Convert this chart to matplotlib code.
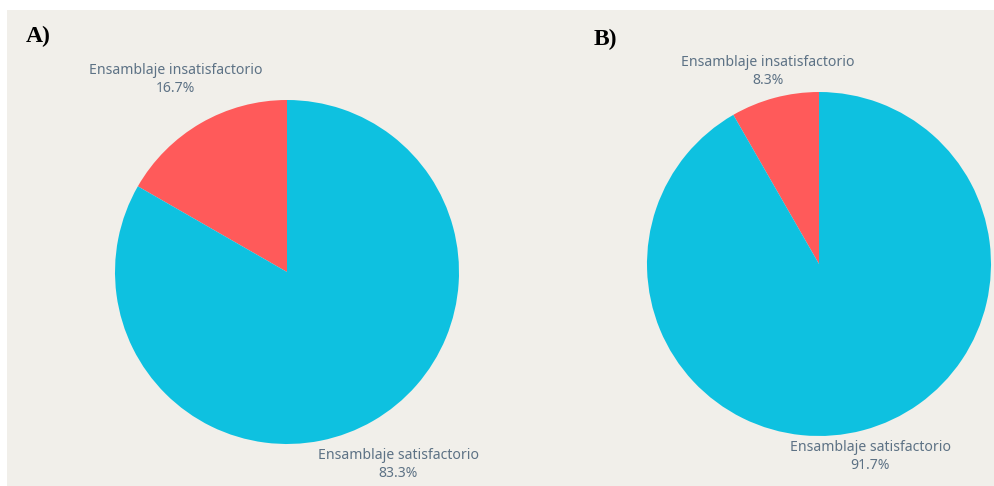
import numpy as np
import matplotlib
matplotlib.use("Agg")
import matplotlib.pyplot as plt

# resultados del ensamblaje en cada caso
categorias = ["Ensamblaje insatisfactorio", "Ensamblaje satisfactorio"]
valores_a = [16.7, 83.3]
valores_b = [8.3, 91.7]
paneles = ["A)", "B)"]

colores = ["#FF5A5A", "#0EC1E0"]
fondo = "#F1EFEA"
color_texto = "#5D7285"

W, H = 995, 486
fig = plt.figure(figsize=(W / 100, H / 100), dpi=100)
fig.patch.set_facecolor("white")
# panel de fondo (deja un borde blanco arriba y a la izquierda)
fig.patches.append(plt.Rectangle((7 / W, -0.1), 1.2, 1.1 - 10 / H, transform=fig.transFigure,
                                 facecolor=fondo, edgecolor="none", zorder=-10))

def dibujar_pie(cx, cy, r, valores, panel, px, py):
    ax = fig.add_axes([(cx - r) / W, (H - cy - r) / H, 2 * r / W, 2 * r / H])
    wedges, _ = ax.pie(valores, colors=colores, startangle=90, counterclock=True,
                       radius=1, wedgeprops=dict(linewidth=0))
    ax.set_xlim(-1, 1)
    ax.set_ylim(-1, 1)
    ax.set_aspect("equal")
    ax.axis("off")
    for w, cat, v in zip(wedges, categorias, valores):
        ang = np.deg2rad((w.theta1 + w.theta2) / 2)
        y = 1.12 if np.sin(ang) > 0 else -1.12
        x = y * np.cos(ang) / np.sin(ang)
        ax.text(x, y, f"{cat}\n{v:.1f}%", ha="center", va="center", color=color_texto,
                fontsize=10.1, family="Noto Sans", linespacing=1.25, clip_on=False)
    fig.text(px / W, 1 - py / H, panel, fontsize=17, fontweight="bold",
             family="Liberation Serif", ha="left", va="center")

dibujar_pie(287, 272, 172, valores_a, paneles[0], 26, 36)
dibujar_pie(819, 264, 172, valores_b, paneles[1], 594, 39)

fig.savefig("out.png", dpi=100, facecolor=fig.get_facecolor())
